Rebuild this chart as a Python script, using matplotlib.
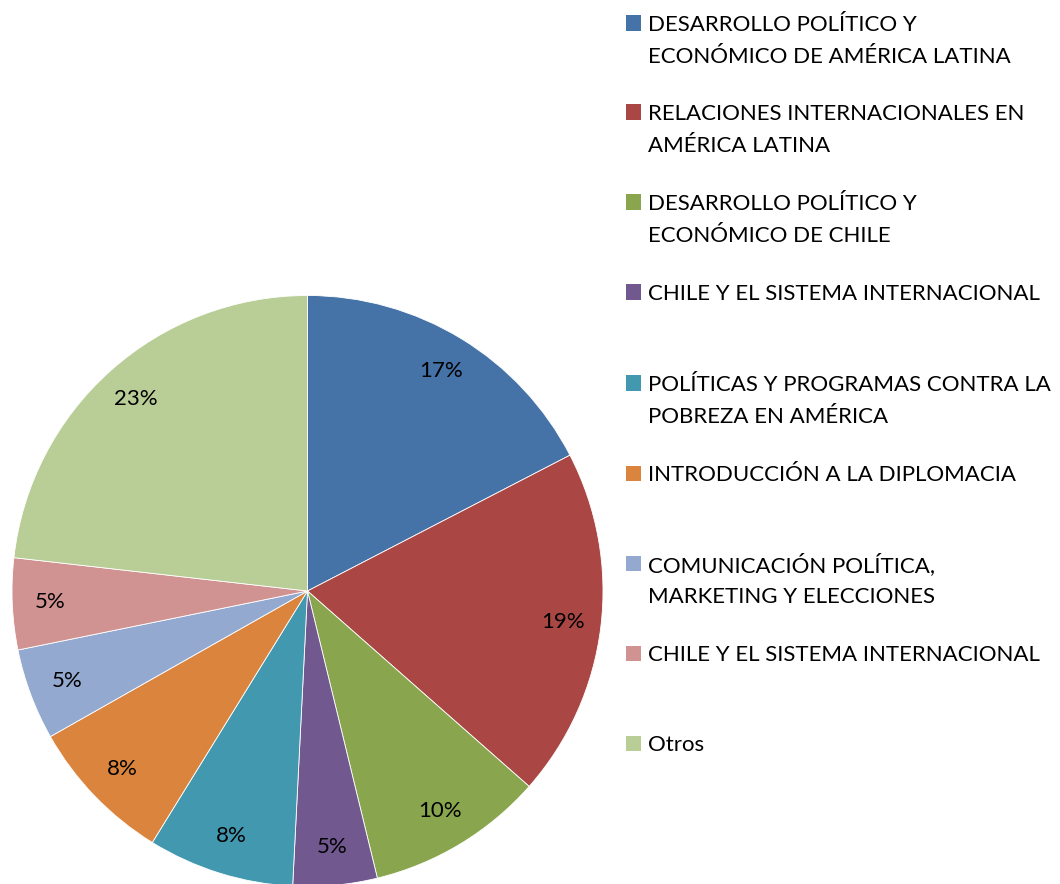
import matplotlib
matplotlib.use("Agg")
import matplotlib.pyplot as plt
from matplotlib.patches import Rectangle

categories = [
    "DESARROLLO POLÍTICO Y\nECONÓMICO DE AMÉRICA LATINA",
    "RELACIONES INTERNACIONALES EN\nAMÉRICA LATINA",
    "DESARROLLO POLÍTICO Y\nECONÓMICO DE CHILE",
    "CHILE Y EL SISTEMA INTERNACIONAL",
    "POLÍTICAS Y PROGRAMAS CONTRA LA\nPOBREZA EN AMÉRICA",
    "INTRODUCCIÓN A LA DIPLOMACIA",
    "COMUNICACIÓN POLÍTICA,\nMARKETING Y ELECCIONES",
    "CHILE Y EL SISTEMA INTERNACIONAL",
    "Otros",
]
values = [17.4, 19.1, 9.7, 4.6, 8.0, 8.0, 5.0, 5.0, 23.2]
colors = ["#4572A7", "#AA4643", "#89A54E", "#71588F", "#4198AF",
          "#DB843D", "#93A9CF", "#D19392", "#B9CD96"]

FONT = "Lato"
FS = 16

W, H = 1060, 884
fig = plt.figure(figsize=(W / 100, H / 100), dpi=100)
fig.patch.set_facecolor("white")

cx, cy, r = 307.5, 591, 295.5
ax = fig.add_axes([(cx - r) / W, (H - cy - r) / H, 2 * r / W, 2 * r / H])
wedges, texts, autotexts = ax.pie(
    values, colors=colors, startangle=90, counterclock=False,
    autopct="%.0f%%", pctdistance=0.87, radius=1,
    wedgeprops=dict(edgecolor="white", linewidth=0.6),
    textprops=dict(fontfamily=FONT, fontsize=FS, color="black"),
)
ax.set_xlim(-1, 1)
ax.set_ylim(-1, 1)
ax.set_aspect("equal")
ax.axis("off")

# legend (manual, irregular spacing as in reference)
legend_y = [23, 112, 202, 292, 383, 473, 563, 653, 743]
sq_x, sq_size, txt_x = 626, 15, 648
line_gap = 32
for lab, col, y in zip(categories, colors, legend_y):
    fig.patches.append(Rectangle(((sq_x) / W, (H - y - sq_size / 2) / H),
                                 sq_size / W, sq_size / H,
                                 transform=fig.transFigure, facecolor=col,
                                 edgecolor="none"))
    for i, line in enumerate(lab.split("\n")):
        fig.text(txt_x / W, (H - y - i * line_gap) / H, line,
                 fontfamily=FONT, fontsize=FS, color="black",
                 ha="left", va="center_baseline")

fig.savefig("out.png", dpi=100, facecolor="white")
